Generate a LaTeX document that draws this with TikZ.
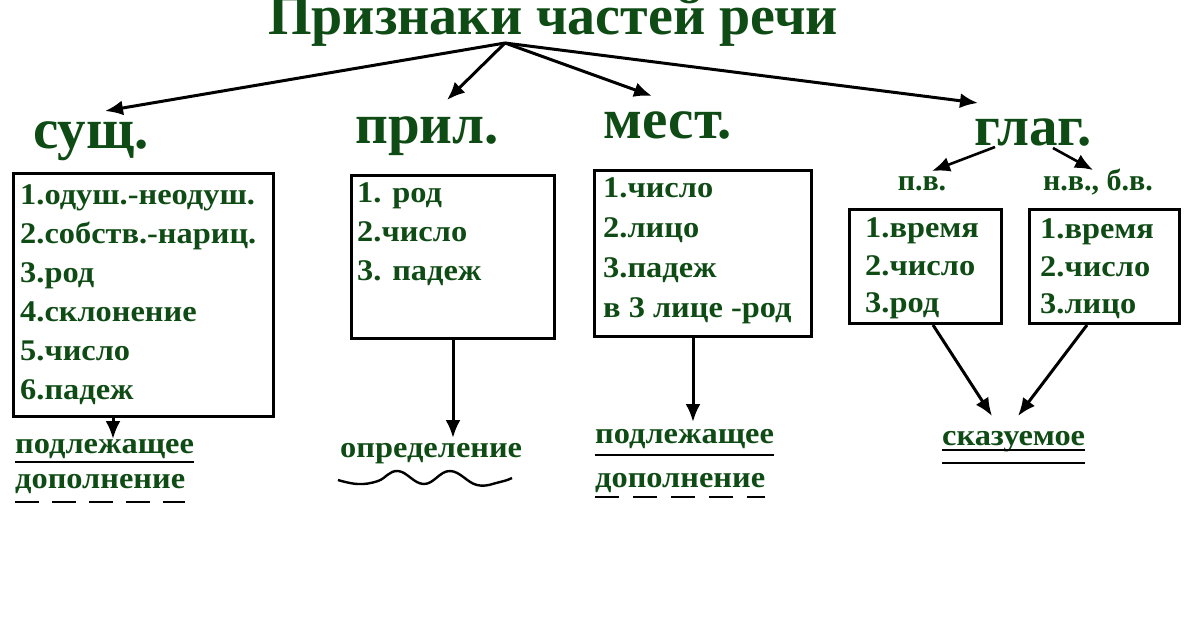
\documentclass[tikz,border=0pt]{standalone}
\usepackage{fontspec}
\setmainfont{Liberation Serif}
\newfontfamily\widefont[FakeStretch=1.08]{Liberation Serif}
\usetikzlibrary{arrows.meta}
\definecolor{darkgreen}{RGB}{15,75,20}

\begin{document}
\begin{tikzpicture}[x=1pt,y=-1pt,
    head/.style={text=darkgreen,font=\bfseries\fontsize{57}{57}\selectfont,inner sep=0pt,anchor=base},
    item/.style={text=darkgreen,font=\widefont\bfseries\fontsize{30}{30}\selectfont,inner sep=0pt,anchor=base west},
    frame/.style={draw,line width=3pt,anchor=north west,inner sep=0pt},
    arr/.style={-{Latex[length=18pt,width=15pt]},line width=3pt},
    uline/.style={line width=2.8pt}]
\useasboundingbox (0,0) rectangle (1200,630);

% title and the four parts of speech
\node[head,font=\bfseries\fontsize{56}{56}\selectfont] (title) at (553,34) {Признаки частей речи};
\coordinate (root) at (505,43);
\node[head] (noun) at (91,148) {сущ.};
\node[head] (adj) at (427,143) {прил.};
\node[head] (pron) at (668,138) {мест.};
\node[head] (verb) at (1033,145) {глаг.};
\coordinate (tonoun) at (105,111);
\coordinate (toadj) at (447,100);
\coordinate (topron) at (652,96);
\coordinate (toverb) at (978,103);
\draw[arr] (root) -- (tonoun);
\draw[arr] (root) -- (toadj);
\draw[arr] (root) -- (topron);
\draw[arr] (root) -- (toverb);

% noun
\node[frame,minimum width=260pt,minimum height=243pt] (nounbox) at (12,172) {};
\foreach \t [count=\i] in {1.одуш.-неодуш.,2.собств.-нариц.,3.род,4.склонение,5.число,6.падеж}
  \node[item] (noun\i) at (20,165+39*\i) {\t};
\draw[arr] ([xshift=101pt]nounbox.south west) -- ++(0,21);
\node[item] (nounsubj) at (15,453) {подлежащее};
\node[item] (nounobj) at (15,488) {дополнение};
\draw[uline] ([yshift=-9pt]nounsubj.base west) -- ([yshift=-9pt]nounsubj.base east);
\draw[uline,dash pattern=on 24pt off 13pt] ([yshift=-14pt]nounobj.base west) -- ([yshift=-14pt]nounobj.base east);

% adjective
\node[frame,minimum width=203pt,minimum height=163pt] (adjbox) at (350,174) {};
\foreach \t [count=\i] in {1. род,2.число,3. падеж}
  \node[item] (adj\i) at (357,163+39*\i) {\t};
\node[item] (adjattr) at (340,457) {определение};
\draw[arr] ([xshift=103pt]adjbox.south west) -- ++(0,98);
\draw[line width=2.4pt] plot[smooth,tension=0.7] coordinates
  {(338,480) (358,484) (378,481) (398,471) (424,484) (450,471) (477,485) (500,482) (512,478)};

% pronoun
\node[frame,minimum width=217pt,minimum height=166pt] (pronbox) at (593,169) {};
\foreach \t [count=\i] in {1.число,2.лицо,3.падеж,в 3 лице -род}
  \node[item] (pron\i) at (603,157+40*\i) {\t};
\draw[arr] ([xshift=100pt]pronbox.south west) -- ++(0,84);
\node[item] (pronsubj) at (595,443) {подлежащее};
\node[item] (pronobj) at (595,487) {дополнение};
\draw[uline] ([yshift=-12pt]pronsubj.base west) -- ([yshift=-12pt]pronsubj.base east);
\draw[uline,dash pattern=on 24pt off 14pt] ([yshift=-10pt]pronobj.base west) -- ([yshift=-10pt]pronobj.base east);

% verb
\node[item,font=\bfseries\fontsize{30}{30}\selectfont,anchor=base] (pv) at (922,190) {п.в.};
\node[item,font=\bfseries\fontsize{30}{30}\selectfont,anchor=base] (nv) at (1098,190) {н.в., б.в.};
\coordinate (topv) at (932,171);
\coordinate (tonv) at (1093,170);
\draw[arr,line width=2.6pt] (995,147) -- (topv);
\draw[arr,line width=2.6pt] (1053,148) -- (tonv);
\node[frame,minimum width=152pt,minimum height=114pt] (pvbox) at (848,208) {};
\node[frame,minimum width=150pt,minimum height=114pt] (nvbox) at (1028,208) {};
\foreach \t [count=\i] in {1.время,2.число,3.род}
  \node[item] (pv\i) at (865,200+37.5*\i) {\t};
\foreach \t [count=\i] in {1.время,2.число,3.лицо}
  \node[item] (nv\i) at (1040,201+37.5*\i) {\t};
\node[item] (pred) at (942,445) {сказуемое};
\coordinate (topred1) at (992,416);
\coordinate (topred2) at (1018,416);
\draw[arr] ([xshift=85pt]pvbox.south west) -- (topred1);
\draw[arr] ([xshift=59pt]nvbox.south west) -- (topred2);
\draw[uline] ([yshift=-5pt]pred.base west) -- ([yshift=-5pt]pred.base east);
\draw[uline] ([yshift=-18pt]pred.base west) -- ([yshift=-18pt]pred.base east);
\end{tikzpicture}
\end{document}
